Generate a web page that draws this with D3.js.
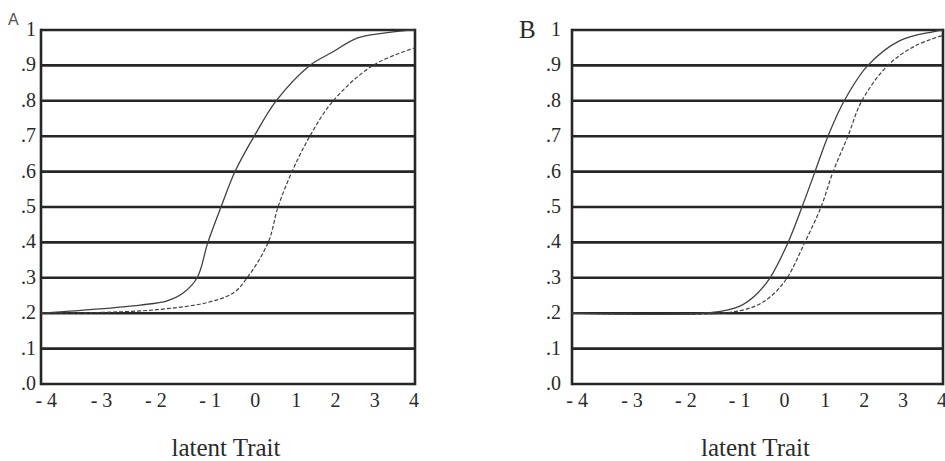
<!doctype html>
<html lang="en">
  <head>
    <meta charset="utf-8" />
    <title>latent Trait curves</title>
    <style>
     body {
       margin: 0;
       background: #fff;
     }
     svg text {
       font-family: "Liberation Serif", "DejaVu Serif", serif;
       fill: #2a2a2a;
     }
    </style>
  </head>
  <body>
    <svg id="chart" width="945" height="461"></svg>

    <script src="https://d3js.org/d3.v7.min.js"></script>
    <script>
    // tick values and labels
    var yTicks = [0, .1, .2, .3, .4, .5, .6, .7, .8, .9, 1];
    var yTickLabels = [".0", ".1", ".2", ".3", ".4", ".5", ".6", ".7", ".8", ".9", "1"];
    var xTicks = [-4, -3, -2, -1, 0, 1, 2, 3, 4];
    var xTickLabels = ["- 4", "- 3", "- 2", "- 1", "0", "1", "2", "3", "4"];

    // panel A
    var aSolidTheta = [-4, -2.95, -1.88, -1.3, -0.96, -0.66, -0.43, -0.15, 0.15, 0.56, 1.03, 1.75, 2.2, 2.76, 3.25, 3.83, 4];
    var aSolidP     = [.2, .21, .223, .235, .257, .3, .4, .5, .6, .7, .8, .9, .935, .977, .99, .999, 1];
    var aDashTheta  = [-4, -2.74, -1.52, -0.45, 0.11, 0.41, 0.86, 1.07, 1.37, 1.75, 2.25, 3.1, 4];
    var aDashP      = [.2, .202, .21, .23, .257, .3, .4, .5, .6, .7, .8, .9, .95];

    // panel B
    var bSolidTheta = [-4, -0.98, -0.38, -0.05, 0.27, 0.66, 0.96, 1.24, 1.52, 1.87, 2.38, 3.07, 3.78, 4];
    var bSolidP     = [.2, .202, .22, .25, .3, .4, .5, .6, .7, .8, .9, .97, .995, 1];
    var bDashTheta  = [-4, -0.7, -0.05, 0.31, 0.64, 1.02, 1.37, 1.63, 1.95, 2.25, 2.81, 3.4, 4];
    var bDashP      = [.2, .201, .22, .25, .3, .4, .5, .6, .7, .8, .9, .955, .985];

    var svg = d3.select("#chart");

    function drawPanel(left, width, labelGap, solid, dashed) {
      var top = 30, bottom = 384;
      var g = svg.append("g");

      var x = d3.scaleLinear().domain([-4, 4]).range([left, left + width]);
      var y = d3.scaleLinear().domain([0, 1]).range([bottom, top]);
      // tick labels in the original are not evenly spaced
      var xl = d3.scaleLinear().domain(xTicks)
        .range([11, 66, 120, 174, 213, 254, 293, 332, 371].map(function(d) { return left + d * width / 372; }));

      g.selectAll("line.grid").data(yTicks).enter().append("line")
        .attr("class", "grid")
        .attr("x1", left).attr("x2", left + width)
        .attr("y1", function(d) { return y(d); })
        .attr("y2", function(d) { return y(d); })
        .attr("stroke", "#262626")
        .attr("stroke-width", 2.6);

      g.selectAll("line.side").data([-4, 4]).enter().append("line")
        .attr("class", "side")
        .attr("x1", function(d) { return x(d); })
        .attr("x2", function(d) { return x(d); })
        .attr("y1", top - 1.3).attr("y2", bottom + 1.3)
        .attr("stroke", "#262626")
        .attr("stroke-width", 2.6);

      g.selectAll("text.ylab").data(yTicks).enter().append("text")
        .attr("class", "ylab")
        .attr("x", left - labelGap)
        .attr("y", function(d) { return y(d) + 6; })
        .attr("text-anchor", "end")
        .attr("font-size", 20)
        .text(function(d, i) { return yTickLabels[i]; });

      g.selectAll("text.xlab").data(xTicks).enter().append("text")
        .attr("class", "xlab")
        .attr("x", function(d) { return xl(d) + 5; })
        .attr("y", 407)
        .attr("text-anchor", "end")
        .attr("font-size", 20)
        .text(function(d, i) { return xTickLabels[i]; });

      var line = d3.line()
        .x(function(d) { return x(d[0]); })
        .y(function(d) { return y(d[1]); })
        .curve(d3.curveCatmullRom.alpha(0.5));

      g.append("path")
        .datum(d3.zip(solid[0], solid[1]))
        .attr("d", line)
        .attr("fill", "none")
        .attr("stroke", "#404040")
        .attr("stroke-width", 1.3);

      g.append("path")
        .datum(d3.zip(dashed[0], dashed[1]))
        .attr("d", line)
        .attr("fill", "none")
        .attr("stroke", "#404040")
        .attr("stroke-width", 1.2)
        .attr("stroke-dasharray", "4,2");

      g.append("text")
        .attr("x", left + width / 2 - 2)
        .attr("y", 456)
        .attr("text-anchor", "middle")
        .attr("font-size", 25)
        .text("latent Trait");
    }

    drawPanel(41, 374, 5, [aSolidTheta, aSolidP], [aDashTheta, aDashP]);
    drawPanel(572, 371, 11, [bSolidTheta, bSolidP], [bDashTheta, bDashP]);

    svg.append("text")
      .attr("x", 8).attr("y", 25)
      .attr("font-size", 16)
      .style("font-family", "'Liberation Sans', Arial, sans-serif")
      .style("fill", "#555")
      .text("A");

    svg.append("text")
      .attr("x", 519).attr("y", 38)
      .attr("font-size", 25)
      .text("B");
    </script>
  </body>
</html>
